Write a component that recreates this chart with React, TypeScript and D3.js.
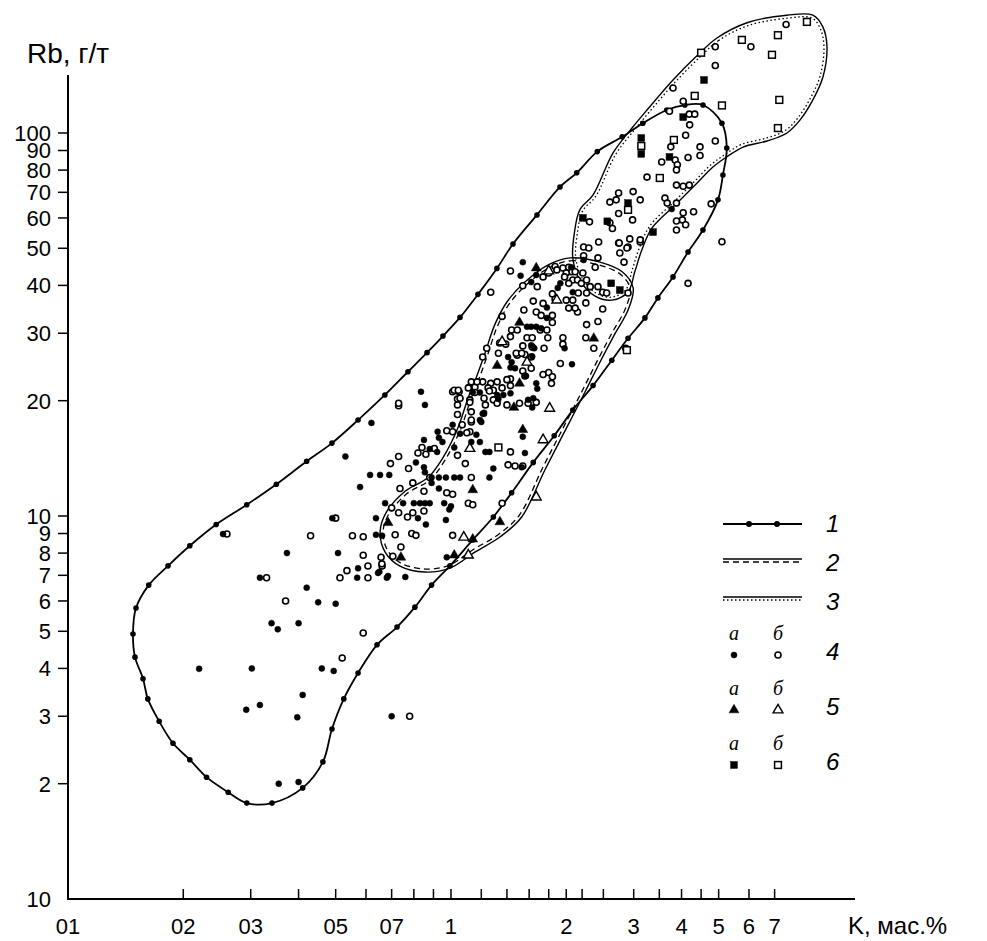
import React from 'react';
import * as d3 from 'd3';

type Pt = [number, number];

// K (mass %) vs Rb (g/t)
const filledCircles: Pt[] = [
  [0.579, 11.9], [0.49, 9.87], [0.254, 8.97], [0.637, 9.87], [0.661, 8.88], [0.637, 8.93], [0.373, 8.0], [0.507, 8.0],
  [0.572, 7.3], [0.569, 6.9], [0.645, 7.1], [0.68, 6.9], [0.317, 6.9], [0.42, 6.5], [0.45, 5.95], [0.5, 5.9],
  [0.34, 5.25], [0.353, 5.06], [0.4, 5.25], [0.22, 3.99], [0.302, 4.0], [0.46, 4.0], [0.494, 3.94], [0.41, 3.41],
  [0.292, 3.12], [0.317, 3.21], [0.397, 2.98], [0.7, 3.0], [0.355, 2.0], [0.4, 2.02],
  [0.835, 21.1], [0.855, 19.5], [1.22, 18.5], [1.2, 17.6], [0.62, 17.5], [1.01, 17.3], [0.923, 16.6], [1.056, 16.4],
  [1.165, 16.3], [0.93, 16.0], [0.95, 15.6], [0.85, 15.8], [0.88, 14.95], [0.92, 14.7], [1.02, 15.1], [1.13, 15.6],
  [1.19, 15.6], [1.23, 14.7], [1.26, 14.7], [1.56, 14.6], [0.53, 14.3], [0.81, 13.8], [0.85, 13.4], [0.855, 13.0],
  [1.29, 13.3], [1.53, 13.4], [0.615, 12.8], [0.653, 12.8], [0.69, 12.8], [0.89, 12.6], [0.93, 12.6], [0.97, 12.6],
  [1.02, 12.6], [1.056, 12.6], [1.26, 12.6], [0.89, 12.2], [0.93, 11.8], [0.673, 10.8], [0.75, 10.8], [0.8, 10.8],
  [0.83, 10.8], [0.855, 10.8], [0.88, 10.8], [0.82, 9.87], [0.86, 9.5], [0.96, 10.8], [1.0, 10.6], [0.99, 10.4],
  [0.97, 9.76], [0.975, 7.8], [0.65, 7.15], [0.685, 6.97], [0.76, 6.93],
  [1.54, 46.0], [1.52, 42.4], [1.67, 42.6], [1.62, 40.8], [1.93, 40.5], [1.9, 39.4], [2.08, 38.4], [1.78, 35.0],
  [1.78, 32.9], [1.58, 31.2], [1.62, 31.2], [1.67, 31.2], [1.72, 30.9], [1.62, 27.9], [1.65, 27.4], [1.98, 27.4],
  [1.41, 26.0], [1.44, 25.2], [1.43, 24.4], [1.47, 24.3], [1.63, 26.1], [2.07, 24.9], [1.57, 23.2], [1.67, 22.2],
  [1.68, 21.5], [1.14, 21.0], [1.19, 21.0], [1.32, 20.7], [1.37, 20.7], [1.43, 20.9], [1.33, 20.2], [1.63, 19.2],
  [1.64, 20.3], [1.59, 20.1], [1.21, 18.5], [1.19, 17.8], [1.22, 18.6], [1.54, 16.1], [2.22, 46.6], [2.06, 44.6],
  [3.77, 63.3],
];

const openCircles: Pt[] = [
  [0.5, 9.87], [0.26, 8.97], [0.43, 8.88], [0.553, 8.88], [0.59, 8.83], [0.715, 8.93], [0.59, 7.9], [0.657, 7.8],
  [0.535, 7.2], [0.607, 7.4], [0.661, 7.4], [0.513, 6.9], [0.607, 6.9], [0.33, 6.9], [0.37, 6.0], [0.59, 4.95],
  [0.52, 4.26], [0.78, 3.0],
  [1.01, 21.1], [1.05, 21.1], [1.04, 20.2], [1.04, 19.5], [0.73, 19.4], [1.12, 20.1], [1.04, 18.4], [1.13, 17.6],
  [1.07, 17.3], [0.975, 16.7], [1.01, 16.6], [1.12, 16.6], [0.84, 15.1], [0.905, 15.0], [0.82, 14.6], [0.86, 14.5],
  [1.04, 14.4], [1.43, 14.7], [0.73, 14.3], [0.695, 13.7], [0.775, 13.3], [1.09, 13.7], [1.41, 13.6], [1.47, 13.5],
  [0.88, 12.6], [1.13, 12.6], [0.736, 11.8], [0.795, 12.2], [0.85, 11.6], [0.975, 11.5], [1.01, 11.4], [0.7, 10.5],
  [0.73, 10.2], [0.77, 9.94], [0.795, 10.2], [0.85, 10.3], [1.11, 10.8], [1.14, 10.7], [0.79, 9.0], [0.81, 8.9],
  [1.01, 8.9], [1.36, 10.8], [0.66, 7.5], [0.74, 8.3], [0.705, 7.85],
  [1.43, 43.6], [1.54, 39.9], [1.68, 39.7], [1.74, 42.1], [1.27, 38.4], [1.87, 44.8], [1.96, 44.4], [2.03, 44.6],
  [1.84, 38.0], [2.07, 43.4], [2.08, 41.3], [2.0, 36.6], [2.08, 36.6], [1.64, 36.4], [1.74, 35.9], [1.55, 34.5],
  [1.67, 34.1], [1.72, 33.4], [1.84, 33.4], [1.84, 32.0], [2.03, 34.9], [2.14, 34.1], [1.36, 33.2], [1.44, 30.6],
  [1.49, 30.6], [1.71, 30.6], [1.78, 30.6], [1.43, 29.4], [1.58, 29.2], [1.63, 29.2], [1.79, 29.2], [1.96, 29.2],
  [1.96, 28.1], [1.34, 28.3], [1.39, 28.1], [1.54, 27.8], [1.75, 27.4], [1.24, 27.4], [1.33, 26.6], [1.49, 26.3],
  [1.56, 26.4], [1.21, 26.0], [1.62, 26.0], [1.62, 24.3], [1.93, 25.0], [1.54, 23.9], [1.74, 23.4], [1.8, 23.7],
  [1.84, 23.1], [1.83, 22.2], [1.43, 22.8], [1.12, 21.7], [1.155, 21.7], [1.21, 22.4], [1.27, 22.2], [1.32, 22.4],
  [1.4, 22.7], [1.11, 21.6], [1.155, 21.0], [1.25, 21.6], [1.29, 21.3], [1.36, 21.6], [1.26, 21.2], [1.22, 20.3],
  [1.29, 20.1], [1.23, 19.5], [1.32, 19.7], [1.4, 19.5], [1.51, 19.7], [1.59, 19.7], [1.67, 19.8], [1.02, 21.3],
  [1.045, 21.3], [1.056, 20.3], [1.12, 19.8], [1.13, 17.8], [1.13, 18.7], [1.1, 16.5], [0.73, 19.7],
  [2.22, 50.4], [2.29, 50.1], [2.22, 47.8], [2.43, 51.9], [2.74, 51.6], [2.9, 50.4], [3.12, 51.9], [2.76, 48.6],
  [2.42, 47.2], [1.89, 43.9], [2.0, 43.1], [2.11, 43.4], [2.21, 43.1], [2.38, 44.6], [1.8, 43.1], [1.98, 42.1],
  [2.03, 40.5], [2.14, 41.3], [2.19, 40.5], [2.26, 41.3], [2.31, 39.7], [2.26, 38.2], [2.15, 38.2], [2.42, 39.7],
  [2.49, 38.4], [2.55, 38.2], [2.9, 38.2], [2.83, 46.0], [1.87, 36.8], [2.11, 34.9], [2.25, 36.0], [2.49, 34.7],
  [2.26, 31.6], [2.42, 32.2], [2.25, 29.2], [2.36, 27.4], [1.48, 26.6], [1.53, 26.6], [1.63, 27.6], [1.56, 23.2],
  [1.13, 22.4], [1.17, 22.4], [1.43, 21.9], [1.54, 13.5], [2.86, 27.4],
  [7.5, 192], [6.07, 168], [4.9, 168], [4.9, 150], [3.8, 131], [4.04, 121], [3.72, 114], [4.19, 112],
  [4.33, 112], [4.2, 105], [4.1, 98.6], [4.9, 95.3], [3.75, 92.0], [4.47, 92.0], [4.47, 87.3], [4.16, 86.3],
  [3.85, 85.0], [3.9, 82.6], [3.88, 80.1], [3.55, 84.0], [3.25, 76.7], [3.88, 73.1], [4.04, 72.6], [4.19, 73.1],
  [3.62, 67.6], [3.67, 65.6], [3.88, 65.6], [4.3, 62.3], [4.78, 65.3], [4.04, 61.9], [4.02, 59.3], [4.1, 57.6],
  [3.88, 58.9], [3.88, 55.8], [2.74, 69.7], [2.7, 66.9], [2.6, 66.0], [2.99, 70.3], [3.12, 66.9], [5.1, 52.0],
  [4.16, 40.5], [2.3, 58.6], [2.6, 58.3], [2.64, 56.3], [2.74, 61.6], [2.98, 59.3], [3.12, 52.6], [2.93, 52.9],
  [2.75, 51.6], [2.88, 50.1],
];

const filledTriangles: Pt[] = [
  [0.685, 9.6], [1.14, 11.7], [1.14, 8.7], [1.342, 9.65], [0.74, 7.8], [1.02, 7.9], [1.51, 32.0], [1.67, 44.4],
  [1.32, 24.7], [1.51, 22.2], [1.46, 19.2], [2.36, 29.1], [1.54, 16.8],
];

const openTriangles: Pt[] = [
  [1.12, 15.0], [1.08, 8.8], [1.8, 43.6], [1.89, 36.6], [1.81, 19.1], [1.74, 15.8], [1.67, 11.2], [1.36, 28.5],
  [1.58, 25.2], [1.11, 7.9],
];

const filledSquares: Pt[] = [
  [2.62, 40.5], [2.76, 38.9], [3.37, 55.1], [2.9, 65.6], [2.21, 60.0], [2.56, 58.8], [3.14, 97.0], [3.14, 88.2],
  [3.72, 86.6], [4.04, 110], [4.58, 137.5],
];

const openSquares: Pt[] = [
  [8.5, 195], [7.14, 180], [5.75, 175], [4.5, 162], [6.89, 160], [4.33, 125], [5.1, 118], [7.2, 122],
  [7.14, 103], [3.14, 92.5], [3.82, 95.9], [3.51, 76.3], [2.9, 63], [2.88, 27.1], [1.33, 15.1],
];

// field outlines
const contour1: Pt[] = [
  [3.21, 32.9], [2.9, 29.1], [2.63, 25.5], [2.35, 21.9], [2.08, 18.9], [1.86, 16.2], [1.64, 13.8], [1.44, 11.5],
  [1.29, 9.94], [1.14, 8.66], [0.994, 7.41], [0.89, 6.6], [0.805, 5.78], [0.723, 5.13], [0.641, 4.61], [0.572, 3.89],
  [0.525, 3.33], [0.489, 2.78], [0.463, 2.28], [0.41, 1.95], [0.341, 1.78], [0.293, 1.78], [0.262, 1.9], [0.23, 2.08],
  [0.208, 2.31], [0.188, 2.55], [0.173, 2.91], [0.1616, 3.33], [0.157, 3.76], [0.1496, 4.28], [0.1478, 4.92],
  [0.1505, 5.75], [0.1625, 6.6], [0.1825, 7.41], [0.208, 8.36], [0.2437, 9.5], [0.293, 10.7], [0.35, 12.1],
  [0.42, 13.9], [0.489, 15.5], [0.572, 17.8], [0.672, 20.7], [0.772, 23.8], [0.866, 26.7], [0.953, 29.5],
  [1.056, 33.0], [1.176, 37.9], [1.318, 44.3], [1.452, 51.3], [1.677, 61.1], [1.926, 72.3], [2.13, 78.7],
  [2.41, 89.4], [2.8, 97.7], [3.17, 106], [3.66, 114.8], [4.08, 118.3], [4.55, 118.3], [5.1, 106], [5.25, 91.4],
  [5.13, 77.7], [4.98, 66.9], [4.55, 55.8], [4.16, 48.9], [3.8, 42.1], [3.47, 37.1],
];

const contour2: Pt[] = [
  [1.79, 45.2], [2.045, 47.2], [2.449, 46.0], [2.8, 43.4], [2.99, 39.4], [2.9, 34.5], [2.67, 29.7], [2.449, 25.2],
  [2.24, 21.1], [1.98, 16.6], [1.76, 13.2], [1.53, 9.94], [1.342, 8.81], [1.155, 8.05], [0.994, 7.31], [0.855, 7.14],
  [0.736, 7.4], [0.673, 8.05], [0.653, 9.08], [0.677, 10.2], [0.759, 11.6], [0.871, 12.6], [0.953, 14.2],
  [1.043, 17.0], [1.108, 20.3], [1.17, 23.3], [1.227, 26.6], [1.3, 31.5], [1.4, 36.2], [1.56, 40.8],
];

const contour3: Pt[] = [
  [4.415, 160], [4.95, 177], [5.93, 194], [7.54, 203], [8.81, 203], [9.36, 189], [9.59, 168], [9.36, 140],
  [8.81, 122], [8.15, 108], [7.54, 100], [6.69, 95.3], [5.79, 91.9], [5.25, 86.6], [4.83, 81.5], [4.34, 73.1],
  [3.85, 64.9], [3.35, 56.5], [3.15, 49.5], [3.02, 43.4], [2.9, 38.5], [2.63, 36.6], [2.38, 37.5], [2.17, 41.3],
  [2.08, 47.2], [2.1, 54.8], [2.17, 63.0], [2.35, 68.9], [2.65, 88.7], [2.97, 103], [3.25, 114.8], [3.8, 137.5],
];

const yTicks = [2, 3, 4, 5, 6, 7, 8, 9, 10, 20, 30, 40, 50, 60, 70, 80, 90, 100];
const xTicks = [0.2, 0.3, 0.4, 0.5, 0.6, 0.7, 0.8, 0.9, 1, 1.2, 1.4, 1.6, 1.8, 2, 2.2, 2.5, 3, 3.5, 4, 4.5, 5, 6, 7];
const xLabelValues = [0.1, 0.2, 0.3, 0.5, 0.7, 1, 2, 3, 4, 5, 6, 7];
const xLabels = ['01', '02', '03', '05', '07', '1', '2', '3', '4', '5', '6', '7'];

const x = d3.scaleLog().domain([0.1, 11.35]).range([68, 855]);
const y = d3.scaleLog().domain([1, 141.7]).range([899, 75]);

const sans = '"Liberation Sans", Arial, sans-serif';
const serif = '"Liberation Serif", "Times New Roman", serif';

const pxLine = d3.line().curve(d3.curveCatmullRomClosed.alpha(0.5));

const toPx = (pts: Pt[]): Pt[] => pts.map(([k, r]) => [x(k), y(r)] as Pt);

// shift a closed outline inward by d pixels (for the double-line styles)
function inset(pts: Pt[], d: number): Pt[] {
  let area = 0;
  for (let i = 0; i < pts.length; i++) {
    const a = pts[i], b = pts[(i + 1) % pts.length];
    area += a[0] * b[1] - b[0] * a[1];
  }
  const s = area > 0 ? 1 : -1;
  return pts.map((p, i) => {
    const prev = pts[(i - 1 + pts.length) % pts.length];
    const next = pts[(i + 1) % pts.length];
    const tx = next[0] - prev[0], ty = next[1] - prev[1];
    const len = Math.hypot(tx, ty) || 1;
    return [p[0] + (s * -ty / len) * d, p[1] + (s * tx / len) * d] as Pt;
  });
}

const tri = d3.symbol().type(d3.symbolTriangle).size(42)() as string;

const Circle = ({ p, open }: { p: Pt; open?: boolean }) => (
  <circle cx={p[0]} cy={p[1]} r={open ? 3 : 3} fill={open ? 'white' : 'black'} stroke="black" strokeWidth={open ? 1.6 : 0.5} />
);
const Tri = ({ p, open }: { p: Pt; open?: boolean }) => (
  <path d={tri} transform={`translate(${p[0]},${p[1]})`} fill={open ? 'white' : 'black'} stroke="black" strokeWidth={open ? 1.4 : 0.5} />
);
const Sq = ({ p, open }: { p: Pt; open?: boolean }) => (
  <rect x={p[0] - 3.4} y={p[1] - 3.4} width={6.8} height={6.8} fill={open ? 'white' : 'black'} stroke="black" strokeWidth={open ? 1.5 : 0.5} />
);

export default function App() {
  const c1 = toPx(contour1);
  const c2 = toPx(contour2);
  const c3 = toPx(contour3);

  return (
    <svg width={987} height={941} style={{ position: 'absolute', left: 0, top: 0, background: 'white' }}>
      {/* axes */}
      <line x1={68} y1={75} x2={68} y2={900} stroke="black" strokeWidth={2} />
      <line x1={67} y1={899} x2={855} y2={899} stroke="black" strokeWidth={2} />
      {yTicks.map((v) => (
        <g key={'y' + v}>
          <line x1={58} x2={68} y1={y(v)} y2={y(v)} stroke="black" strokeWidth={1.5} />
          <text x={51} y={y(v)} dy="0.36em" textAnchor="end" fontFamily={sans} fontSize={22}>{v}</text>
        </g>
      ))}
      <text x={51} y={899} dy="0.36em" textAnchor="end" fontFamily={sans} fontSize={22}>10</text>
      {xTicks.map((v) => (
        <line key={'x' + v} x1={x(v)} x2={x(v)} y1={899} y2={889} stroke="black" strokeWidth={1.5} />
      ))}
      {xLabelValues.map((v, i) => (
        <text key={'xl' + v} x={x(v)} y={934} textAnchor="middle" fontFamily={sans} fontSize={22}>{xLabels[i]}</text>
      ))}
      <text x={27} y={63} fontFamily={sans} fontSize={28}>Rb, г/т</text>
      <text x={848} y={934} fontFamily={sans} fontSize={24}>K, мас.%</text>

      {/* field 3: solid + dotted */}
      <path d={pxLine(c3) as string} fill="none" stroke="black" strokeWidth={1.4} />
      <path d={pxLine(inset(c3, 3)) as string} fill="none" stroke="black" strokeWidth={1.3} strokeDasharray="1.5,2.5" />
      {/* field 2: solid + dashed */}
      <path d={pxLine(c2) as string} fill="none" stroke="black" strokeWidth={1.4} />
      <path d={pxLine(inset(c2, 3)) as string} fill="none" stroke="black" strokeWidth={1.3} strokeDasharray="6,4" />
      {/* field 1: solid with nodes */}
      <path d={pxLine(c1) as string} fill="none" stroke="black" strokeWidth={1.8} />
      {c1.map((p, i) => (
        <circle key={'n' + i} cx={p[0]} cy={p[1]} r={2.8} fill="black" />
      ))}

      {/* samples */}
      {toPx(openCircles).map((p, i) => <Circle key={'oc' + i} p={p} open />)}
      {toPx(openSquares).map((p, i) => <Sq key={'os' + i} p={p} open />)}
      {toPx(openTriangles).map((p, i) => <Tri key={'ot' + i} p={p} open />)}
      {toPx(filledCircles).map((p, i) => <Circle key={'fc' + i} p={p} />)}
      {toPx(filledTriangles).map((p, i) => <Tri key={'ft' + i} p={p} />)}
      {toPx(filledSquares).map((p, i) => <Sq key={'fs' + i} p={p} />)}

      {/* legend */}
      <g>
        <line x1={723} x2={802} y1={524} y2={524} stroke="black" strokeWidth={1.8} />
        <circle cx={749} cy={524} r={3} fill="black" />
        <circle cx={777} cy={524} r={3} fill="black" />
        <text x={826} y={532} fontFamily={sans} fontStyle="italic" fontSize={24}>1</text>

        <line x1={723} x2={802} y1={559} y2={559} stroke="black" strokeWidth={1.6} />
        <line x1={723} x2={802} y1={562} y2={562} stroke="black" strokeWidth={1.3} strokeDasharray="6,4" />
        <text x={826} y={571} fontFamily={sans} fontStyle="italic" fontSize={24}>2</text>

        <line x1={723} x2={802} y1={597} y2={597} stroke="black" strokeWidth={1.6} />
        <line x1={723} x2={802} y1={600} y2={600} stroke="black" strokeWidth={1.3} strokeDasharray="1.5,2.5" />
        <text x={826} y={610} fontFamily={sans} fontStyle="italic" fontSize={24}>3</text>

        {['4', '5', '6'].map((n, i) => {
          const ty = 640 + i * 55;
          const my = ty + 15;
          return (
            <g key={'lg' + n}>
              <text x={734} y={ty} textAnchor="middle" fontFamily={serif} fontStyle="italic" fontSize={20}>a</text>
              <text x={778} y={ty} textAnchor="middle" fontFamily={serif} fontStyle="italic" fontSize={20}>б</text>
              {i === 0 && <><Circle p={[734, my]} /><Circle p={[778, my]} open /></>}
              {i === 1 && <><Tri p={[734, my]} /><Tri p={[778, my]} open /></>}
              {i === 2 && <><Sq p={[734, my]} /><Sq p={[778, my]} open /></>}
              <text x={826} y={my + 5} fontFamily={sans} fontStyle="italic" fontSize={24}>{n}</text>
            </g>
          );
        })}
      </g>
    </svg>
  );
}
